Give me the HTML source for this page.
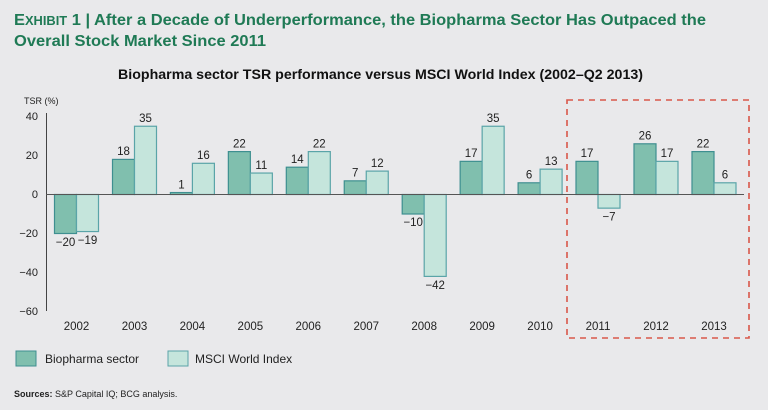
<!DOCTYPE html>
<html><head><meta charset="utf-8"><style>
body{margin:0;background:#e9e9eb;}
svg{display:block;font-family:"Liberation Sans",sans-serif;}
</style></head><body>
<svg width="768" height="410" viewBox="0 0 768 410" xmlns="http://www.w3.org/2000/svg">
<rect width="768" height="410" fill="#e9e9eb"/>
<text x="14" y="25" font-size="16" font-weight="bold" fill="#1f7a55" textLength="692" lengthAdjust="spacingAndGlyphs">E<tspan font-size="12.5">XHIBIT</tspan> 1 | After a Decade of Underperformance, the Biopharma Sector Has Outpaced the</text>
<text x="14" y="46" font-size="16" font-weight="bold" fill="#1f7a55" textLength="252" lengthAdjust="spacingAndGlyphs">Overall Stock Market Since 2011</text>
<text x="118" y="79" font-size="13.5" font-weight="bold" fill="#111" textLength="525" lengthAdjust="spacingAndGlyphs">Biopharma sector TSR performance versus MSCI World Index (2002–Q2 2013)</text>
<text x="24" y="104" font-size="9" fill="#222">TSR (%)</text>
<g font-size="11" fill="#222" text-anchor="end">
<text x="38" y="120">40</text><text x="38" y="159">20</text><text x="38" y="198">0</text>
<text x="38" y="237">−20</text><text x="38" y="276">−40</text><text x="38" y="315">−60</text>
</g>
<line x1="46.5" y1="113" x2="46.5" y2="311" stroke="#444" stroke-width="1"/>
<g stroke-width="1.2">
<g fill="#80bfae" stroke="#3e8f90">
<rect x="54.5" y="194.5" width="22" height="39"/>
<rect x="112.5" y="159.4" width="22" height="35.1"/>
<rect x="170.4" y="192.55" width="22" height="1.95"/>
<rect x="228.35" y="151.6" width="22" height="42.9"/>
<rect x="286.3" y="167.2" width="22" height="27.3"/>
<rect x="344.25" y="180.85" width="22" height="13.65"/>
<rect x="402.2" y="194.5" width="22" height="19.5"/>
<rect x="460.15" y="161.35" width="22" height="33.15"/>
<rect x="518.1" y="182.8" width="22" height="11.7"/>
<rect x="576" y="161.35" width="22" height="33.15"/>
<rect x="634" y="143.8" width="22" height="50.7"/>
<rect x="692" y="151.6" width="22" height="42.9"/>
</g>
<g fill="#c5e5dc" stroke="#5aa4a8">
<rect x="76.5" y="194.5" width="22" height="37.05"/>
<rect x="134.5" y="126.25" width="22" height="68.25"/>
<rect x="192.4" y="163.3" width="22" height="31.2"/>
<rect x="250.35" y="173.05" width="22" height="21.45"/>
<rect x="308.3" y="151.6" width="22" height="42.9"/>
<rect x="366.25" y="171.1" width="22" height="23.4"/>
<rect x="424.2" y="194.5" width="22" height="81.9"/>
<rect x="482.15" y="126.25" width="22" height="68.25"/>
<rect x="540.1" y="169.15" width="22" height="25.35"/>
<rect x="598" y="194.5" width="22" height="13.65"/>
<rect x="656" y="161.35" width="22" height="33.15"/>
<rect x="714" y="182.8" width="22" height="11.7"/>
</g>
</g>
<g font-size="11.5" fill="#222" text-anchor="middle">
<text x="65.5" y="246">−20</text><text x="87.5" y="244">−19</text>
<text x="123.5" y="155">18</text><text x="145.5" y="122">35</text>
<text x="181.4" y="188.5">1</text><text x="203.4" y="159">16</text>
<text x="239.35" y="147.5">22</text><text x="261.35" y="169">11</text>
<text x="297.3" y="163">14</text><text x="319.3" y="147.5">22</text>
<text x="355.25" y="176.5">7</text><text x="377.25" y="167">12</text>
<text x="413.2" y="226">−10</text><text x="435.2" y="289">−42</text>
<text x="471.15" y="157">17</text><text x="493.15" y="122">35</text>
<text x="529.1" y="178.5">6</text><text x="551.1" y="165">13</text>
<text x="587" y="157">17</text><text x="609" y="220.5">−7</text>
<text x="645" y="139.5">26</text><text x="667" y="157">17</text>
<text x="703" y="147.5">22</text><text x="725" y="178.5">6</text>
</g>
<g font-size="11.5" fill="#222" text-anchor="middle">
<text x="76.5" y="330">2002</text><text x="134.5" y="330">2003</text><text x="192.4" y="330">2004</text>
<text x="250.35" y="330">2005</text><text x="308.3" y="330">2006</text><text x="366.25" y="330">2007</text>
<text x="424.2" y="330">2008</text><text x="482.15" y="330">2009</text><text x="540.1" y="330">2010</text>
<text x="598" y="330">2011</text><text x="656" y="330">2012</text><text x="714" y="330">2013</text>
</g>
<line x1="46" y1="194.5" x2="744" y2="194.5" stroke="#555" stroke-width="1"/>
<rect x="567" y="100" width="182" height="238" fill="none" stroke="#d9584a" stroke-width="1.6" stroke-dasharray="6,5"/>
<rect x="16" y="351" width="20" height="15" fill="#80bfae" stroke="#3e8f90"/>
<text x="45" y="363" font-size="12" fill="#222">Biopharma sector</text>
<rect x="168" y="351" width="20" height="15" fill="#c5e5dc" stroke="#5aa4a8"/>
<text x="195" y="363" font-size="12" fill="#222">MSCI World Index</text>
<text x="14" y="397" font-size="9" fill="#222"><tspan font-weight="bold">Sources:</tspan> S&amp;P Capital IQ; BCG analysis.</text>
</svg>
</body></html>
